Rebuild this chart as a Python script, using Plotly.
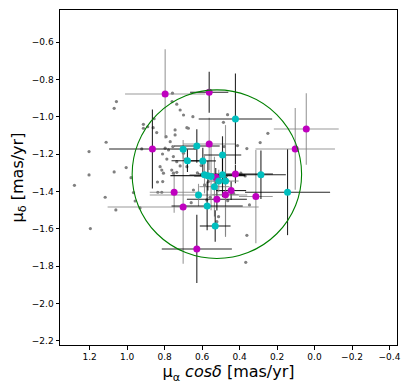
import plotly.graph_objects as go

# background field stars (grey dots)
field_x = [1.281, 1.203, 1.203, 1.196, 1.112, 1.117, 1.069, 1.057, 1.069, 1.060,
           1.005, 0.979, 0.966, 0.957, 0.922, 0.931, 0.913, 0.913, 0.856, 0.890,
           0.861, 0.842, 0.836, 0.815, 0.806, 0.810, 0.797, 0.811, 0.824, 0.792,
           0.758, 0.760, 0.735, 0.717, 0.699, 0.681, 0.673, 0.649, 0.744, 0.744,
           0.756, 0.753, 0.735, 0.762, 0.753, 0.735, 0.699, 0.690, 0.717, 0.681,
           0.646, 0.637, 0.658, 0.605, 0.587, 0.566, 0.512, 0.521, 0.464, 0.486,
           0.482, 0.411, 0.393, 0.370, 0.463, 0.361, 0.347, 0.367, 0.290, 0.249,
           0.432, 0.557, 0.575, 0.361, 0.770, 0.788, 0.779, 0.815, 0.838, 0.625]
field_y = [-1.367, -1.186, -1.311, -1.599, -1.136, -1.431, -0.954, -0.918, -1.295, -1.499,
           -1.272, -1.326, -1.406, -1.451, -1.172, -1.488, -1.040, -1.061, -1.010, -1.053,
           -1.058, -1.084, -1.404, -1.404, -1.302, -1.347, -1.168, -1.199, -1.267, -1.106,
           -0.873, -0.918, -0.932, -0.963, -0.990, -1.058, -1.061, -0.999, -1.097, -1.070,
           -1.159, -1.213, -1.240, -1.285, -1.302, -1.297, -1.195, -1.227, -1.263, -1.267,
           -1.392, -1.168, -1.460, -1.261, -1.365, -1.347, -1.535, -1.562, -0.988, -1.029,
           -1.159, -1.154, -1.302, -1.317, -1.449, -1.635, -1.472, -1.780, -1.138, -1.088,
           -1.410, -1.431, -1.445, -1.170, -1.133, -1.226, -1.177, -1.285, -1.349, -1.300]

# magenta members
mag_x = [0.797, 0.562, 0.865, 0.562, 0.044, 0.103, 0.422, 0.527, 0.749, 0.701,
         0.521, 0.475, 0.445, 0.313, 0.628]
mag_y = [-0.877, -0.868, -1.172, -1.145, -1.065, -1.172, -1.306, -1.324, -1.404, -1.483,
         -1.442, -1.417, -1.395, -1.427, -1.708]
mag_ex = [0.214, 0.102, 0.231, 0.138, 0.173, 0.212, 0.200, 0.060, 0.130, 0.403,
          0.160, 0.070, 0.080, 0.090, 0.187]
mag_ey = [0.239, 0.110, 0.212, 0.140, 0.192, 0.219, 0.050, 0.050, 0.110, 0.304,
          0.060, 0.220, 0.050, 0.250, 0.183]
mag_dark = [False, True, True, False, False, False, True, True, False, False,
            True, False, True, False, True]

# cyan members
cyan_x = [0.422, 0.701, 0.628, 0.491, 0.678, 0.596, 0.587, 0.569, 0.552, 0.491,
          0.511, 0.475, 0.534, 0.286, 0.144, 0.619, 0.573, 0.530]
cyan_y = [-1.011, -1.174, -1.156, -1.204, -1.235, -1.236, -1.310, -1.315, -1.320, -1.310,
          -1.344, -1.344, -1.374, -1.310, -1.404, -1.419, -1.478, -1.585]
cyan_ex = [0.196, 0.062, 0.122, 0.100, 0.085, 0.070, 0.080, 0.200, 0.090, 0.120,
           0.060, 0.070, 0.080, 0.133, 0.227, 0.260, 0.190, 0.082]
cyan_ey = [0.243, 0.050, 0.090, 0.100, 0.060, 0.070, 0.100, 0.080, 0.180, 0.120,
           0.060, 0.300, 0.160, 0.130, 0.230, 0.060, 0.130, 0.085]
cyan_dark = [True, False, True, True, True, True, False, True, False, True,
             False, False, False, True, True, False, True, True]

circle_cx, circle_cy, circle_r = 0.521, -1.307, 0.452

xticks = [1.2, 1.0, 0.8, 0.6, 0.4, 0.2, 0.0, -0.2, -0.4]
yticks = [-0.6, -0.8, -1.0, -1.2, -1.4, -1.6, -1.8, -2.0, -2.2]


def lab(v):
    return ("\u2212" if v < 0 else "") + "%.1f" % abs(v)


fig = go.Figure()

fig.add_trace(go.Scatter(x=field_x, y=field_y, mode="markers",
                         marker=dict(color="#808080", size=3.2), showlegend=False))

groups = [(mag_x, mag_y, mag_ex, mag_ey, mag_dark), (cyan_x, cyan_y, cyan_ex, cyan_ey, cyan_dark)]
for gx, gy, gex, gey, gd in groups:
    for dark in (False, True):
        idx = [i for i in range(len(gx)) if gd[i] == dark]
        col = "rgba(0,0,0,0.85)" if dark else "rgba(128,128,128,0.8)"
        fig.add_trace(go.Scatter(
            x=[gx[i] for i in idx], y=[gy[i] for i in idx], mode="markers",
            marker=dict(size=1, color="rgba(0,0,0,0)"),
            error_x=dict(type="data", array=[gex[i] for i in idx], color=col, thickness=1.1, width=0),
            error_y=dict(type="data", array=[gey[i] for i in idx], color=col, thickness=1.1, width=0),
            showlegend=False, hoverinfo="skip"))

fig.add_trace(go.Scatter(x=mag_x, y=mag_y, mode="markers",
                         marker=dict(color="#bf00bf", size=7), showlegend=False))
fig.add_trace(go.Scatter(x=cyan_x, y=cyan_y, mode="markers",
                         marker=dict(color="#00bfbf", size=7), showlegend=False))

fig.add_shape(type="circle", xref="x", yref="y",
              x0=circle_cx - circle_r, x1=circle_cx + circle_r,
              y0=circle_cy - circle_r, y1=circle_cy + circle_r,
              line=dict(color="green", width=1.1))

axis_common = dict(showline=True, mirror=True, linecolor="black", linewidth=1,
                   ticks="outside", ticklen=3.5, tickcolor="black", showgrid=False,
                   zeroline=False,
                   tickfont=dict(family="DejaVu Sans", size=9, color="black"))

fig.update_xaxes(range=[1.358, -0.44], tickvals=xticks, ticktext=[lab(v) for v in xticks],
                 automargin=True,
                 title=dict(text="\u03bc<sub>\u03b1</sub> <i>cos\u03b4</i> [mas/yr]", standoff=4,
                            font=dict(family="DejaVu Sans", size=16, color="black")),
                 **axis_common)
fig.update_yaxes(range=[-2.223, -0.427], tickvals=yticks, ticktext=[lab(v) for v in yticks],
                 automargin=False,
                 title=dict(text="\u03bc<sub>\u03b4</sub> [mas/yr]",
                            font=dict(family="DejaVu Sans", size=16, color="black")),
                 **axis_common)

# page body has an 8px margin, so the figure is shrunk by that amount
fig.update_layout(width=401, height=383, plot_bgcolor="white", paper_bgcolor="white",
                  margin=dict(l=52, r=12, t=2, b=46))

fig.write_html("out.html")
